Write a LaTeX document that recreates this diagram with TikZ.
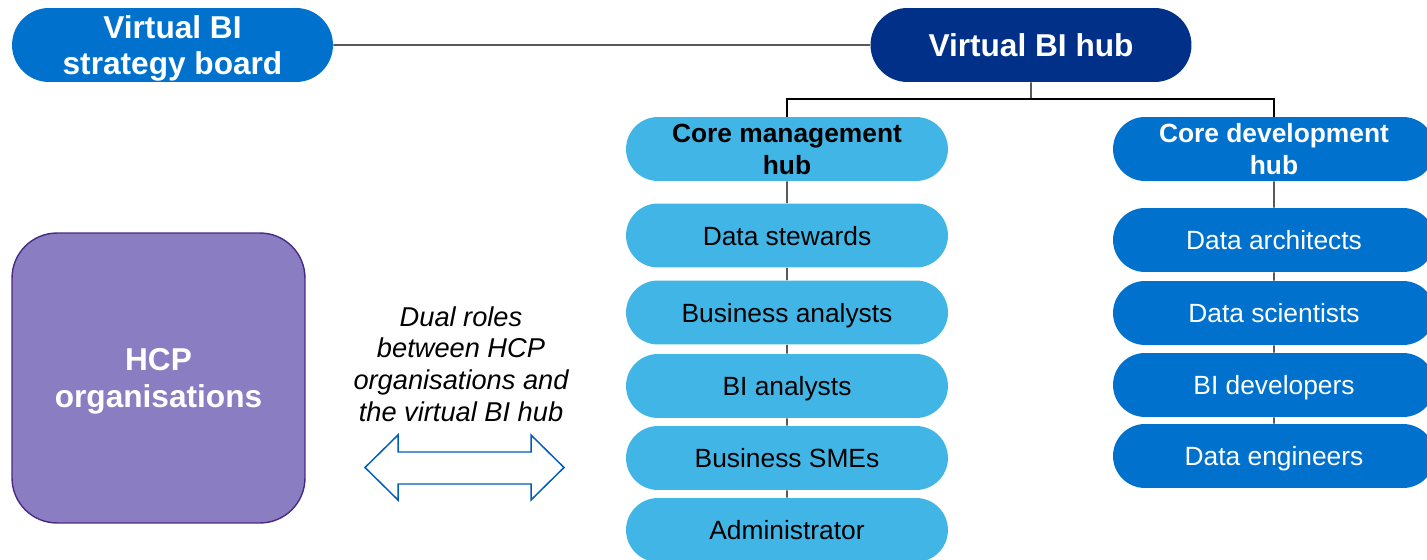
\documentclass[tikz,border=0pt]{standalone}
\usepackage{fontspec}
\setmainfont{Liberation Sans}
\usetikzlibrary{shapes.misc}
\definecolor{boardblue}{RGB}{0,114,206}
\definecolor{hubnavy}{RGB}{0,48,135}
\definecolor{mgmtblue}{RGB}{65,182,230}
\definecolor{hcpfill}{RGB}{139,125,193}
\definecolor{hcpline}{RGB}{72,42,130}
\definecolor{arrowblue}{RGB}{0,94,184}
\tikzset{
 pill/.style={rounded rectangle,inner sep=0pt,minimum width=6.44cm,minimum height=1.28cm,align=center,text depth=0pt},
 headpill/.style={pill,minimum width=6.42cm,minimum height=1.48cm,fill=#1,text=white,font=\bfseries\fontsize{18}{21}\selectfont},
 subhub/.style={pill,fill=#1,font=\bfseries\fontsize{15}{18}\selectfont},
 mgmtitem/.style={pill,fill=mgmtblue,font=\fontsize{15}{18}\selectfont},
 devitem/.style={pill,fill=boardblue,text=white,font=\fontsize{15}{18}\selectfont},
 link/.style={line width=0.8pt}
}
\begin{document}
\begin{tikzpicture}[x=0.02cm,y=-0.02cm]
\useasboundingbox (0,0) rectangle (1427,560);
\node[headpill=boardblue] (board) at (172.5,45) {Virtual BI\\strategy board};
\node[headpill=hubnavy] (hub) at (1031,45) {Virtual BI hub};
\node[subhub=mgmtblue] (mgmt) at (787,149) {Core management\\hub};
\node[subhub=boardblue,text=white] (dev) at (1274,149) {Core development\\hub};
\foreach \name/\y/\txt in {stew/235.5/Data stewards,busan/312.5/Business analysts,bian/386/BI analysts,sme/458/Business SMEs,admin/530/Administrator}
 \node[mgmtitem] (\name) at (787,\y) {\txt};
\foreach \name/\y/\txt in {arch/240/Data architects,sci/313/Data scientists,bidev/385/BI developers,eng/456/Data engineers}
 \node[devitem] (\name) at (1274,\y) {\txt};
\node[rectangle,rounded corners=0.9cm,minimum width=5.86cm,minimum height=5.8cm,fill=hcpfill,draw=hcpline,line width=0.8pt,text=white,align=center,text depth=0pt,font=\bfseries\fontsize{18}{21.5}\selectfont] (hcp) at (158.5,378) {HCP\\organisations};
\node[align=center,font=\itshape\fontsize{15.5}{18}\selectfont] (dual) at (461,364) {Dual roles\\between HCP\\organisations and\\the virtual BI hub};
\coordinate (split) at (1031,99);
\draw[link] (board) -- (hub);
\draw[link] (hub) -- (split);
\draw[link] (split) -| (mgmt);
\draw[link] (split) -| (dev);
\foreach \a/\b in {mgmt/stew,stew/busan,busan/bian,bian/sme,sme/admin,dev/arch,arch/sci,sci/bidev,bidev/eng}
 \draw[link] (\a) -- (\b);
\draw[arrowblue,line width=0.85pt,fill=white]
(365,467.5)--(398,435)--(398,452)--(531,452)--(531,435)--(564,467.5)--(531,500)--(531,484)--(398,484)--(398,500)--cycle;
\end{tikzpicture}
\end{document}
